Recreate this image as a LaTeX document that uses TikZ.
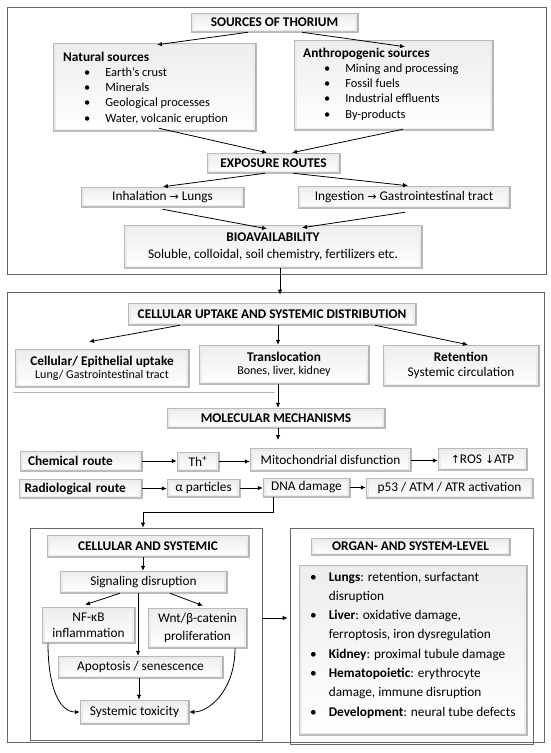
\documentclass[tikz,border=0pt]{standalone}
\usepackage{fontspec}
\setmainfont{Carlito}
\newfontfamily\arrowfont{DejaVu Sans}
\usetikzlibrary{arrows.meta}

\newcommand{\mainsize}{\fontsize{13.3}{15}\selectfont}
\newcommand{\subsize}{\fontsize{12}{14}\selectfont}
\newcommand{\thto}{{\arrowfont\fontsize{11}{12}\selectfont →}}
\newcommand{\thup}{{\arrowfont\fontsize{11}{12}\selectfont ↑}}
\newcommand{\thdown}{{\arrowfont\fontsize{11}{12}\selectfont ↓}}

\tikzset{
  bevel/.style={draw=gray!55, line width=0.5pt, fill=gray!16, inner sep=2pt,
    path picture={
      \fill[top color=gray!14, bottom color=white]
        ([shift={(3pt,3pt)}]path picture bounding box.south west) rectangle
        ([shift={(-3pt,-3pt)}]path picture bounding box.north east);
      \draw[gray!60, line width=2pt]
        (path picture bounding box.north east) -- (path picture bounding box.south east);
      \draw[gray!50, line width=1.2pt]
        (path picture bounding box.south east) -- (path picture bounding box.south west);
    }},
  frame/.style={draw=black!60, line width=0.7pt},
  arr/.style={-{Latex[length=5pt,width=4.5pt]}, line width=0.8pt},
  list/.style={inner sep=0pt, anchor=base west}
}

\begin{document}
\begin{tikzpicture}[x=1pt,y=-1pt,font=\mainsize]
\useasboundingbox (0,0) rectangle (550,753);

% frames
\node[frame, minimum width=539pt, minimum height=267pt] (fa) at (276.5,140.5) {};
\node[frame, minimum width=537pt, minimum height=450pt] (fb) at (275.5,517) {};
\node[frame, minimum width=232pt, minimum height=212pt] (fc) at (146,634) {};
\node[frame, minimum width=243pt, minimum height=216pt] (fd) at (411.5,636) {};

% sources and exposure
\node[bevel, minimum width=167pt, minimum height=19pt, font=\mainsize\bfseries] (src) at (274.5,22.5) {SOURCES OF THORIUM};
\node[bevel, minimum width=203pt, minimum height=88pt] (nat) at (154.5,87) {};
\node[list, font=\fontsize{12.4}{15.3}\selectfont] (natlist) at (63,61) {\begin{tabular}[t]{@{\hspace{21pt}}c@{\hspace{15pt}}l@{}}
\multicolumn{2}{@{}l@{}}{\mainsize\textbf{Natural sources}}\\
\textbullet & Earth’s crust\\
\textbullet & Minerals\\
\textbullet & Geological processes\\
\textbullet & Water, volcanic eruption
\end{tabular}};
\node[bevel, minimum width=199pt, minimum height=90pt] (ant) at (393.5,85) {};
\node[list, font=\fontsize{12.4}{15.3}\selectfont] (antlist) at (303,57) {\begin{tabular}[t]{@{\hspace{21pt}}c@{\hspace{15pt}}l@{}}
\multicolumn{2}{@{}l@{}}{\mainsize\textbf{Anthropogenic sources}}\\
\textbullet & Mining and processing\\
\textbullet & Fossil fuels\\
\textbullet & Industrial effluents\\
\textbullet & By-products
\end{tabular}};
\node[bevel, minimum width=133pt, minimum height=20pt, font=\mainsize\bfseries] (exp) at (273.5,163) {EXPOSURE ROUTES};
\node[bevel, minimum width=163pt, minimum height=20pt] (inh) at (162.5,197) {Inhalation \thto{} Lungs};
\node[bevel, minimum width=212pt, minimum height=22pt] (ing) at (404,197) {Ingestion \thto{} Gastrointestinal tract};
\node[bevel, minimum width=298pt, minimum height=43pt, align=center, font=\fontsize{13.3}{17}\selectfont] (bio) at (273,246.5) {\textbf{BIOAVAILABILITY}\\Soluble, colloidal, soil chemistry, fertilizers etc.};

\draw[arr] ([xshift=-26.5pt]src.south) -- ([xshift=2.5pt,yshift=-2pt]nat.north);
\draw[arr] ([xshift=27.5pt]src.south) -- ([xshift=11.5pt,yshift=-7pt]ant.north);
\draw[arr] ([xshift=4.5pt,yshift=3pt]nat.south) -- ([xshift=-6.5pt]exp.north);
\draw[arr] ([xshift=9.5pt,yshift=1pt]ant.south) -- ([xshift=18.5pt]exp.north);
\draw[arr] ([xshift=-8.5pt]exp.south) -- ([xshift=0.5pt]inh.north);
\draw[arr] ([xshift=19.5pt]exp.south) -- ([xshift=4pt]ing.north);
\draw[arr] ([yshift=-2pt]inh.south) -- ([xshift=-6pt,yshift=-4pt]bio.north);
\draw[arr] ([xshift=1pt,yshift=-4pt]ing.south) -- ([xshift=29pt,yshift=-3pt]bio.north);
\draw[arr] ([xshift=7pt]bio.south) -- ([xshift=7pt,yshift=-3pt]bio.south |- fb.north);

% uptake and distribution
\node[bevel, minimum width=288pt, minimum height=22pt, font=\mainsize\bfseries] (cusd) at (272,314) {CELLULAR UPTAKE AND SYSTEMIC DISTRIBUTION};
\node[bevel, minimum width=174pt, minimum height=38pt, align=center] (cel) at (102,368) {\textbf{Cellular/ Epithelial uptake}\\[-2pt]{\subsize Lung/ Gastrointestinal tract}};
\node[bevel, minimum width=170pt, minimum height=39pt, align=center] (trans) at (284,364.5) {\textbf{Translocation}\\[-2pt]{\subsize Bones, liver, kidney}};
\node[bevel, minimum width=156pt, minimum height=41pt, align=center] (ret) at (461,365.5) {\textbf{Retention}\\Systemic circulation};
\draw[gray!60, line width=0.6pt] (13,392) -- (275,392);

\draw[arr] ([xshift=-92pt]cusd.south) -- ([xshift=-13pt,yshift=7pt]cel.north);
\draw[arr] ([xshift=6pt]cusd.south) -- ([xshift=6pt]cusd.south |- trans.north);
\draw[arr] ([xshift=103pt]cusd.south) -- ([xshift=7pt]ret.north);

% molecular mechanisms
\node[bevel, minimum width=218pt, minimum height=20pt, font=\mainsize\bfseries] (mol) at (276,418) {MOLECULAR MECHANISMS};
\draw[arr] ([xshift=-6pt]trans.south) -- ([xshift=-6pt]trans.south |- mol.north);
\coordinate (molend) at (278,440);
\draw[arr] ([xshift=2pt]mol.south) -- (molend);

\node[bevel, minimum width=122pt, minimum height=20pt, text width=106pt, inner xsep=8pt, align=left, font=\mainsize\bfseries] (chem) at (81,461) {Chemical route};
\node[bevel, minimum width=42pt, minimum height=19pt] (th) at (198,461.5) {Th\textsuperscript{+}};
\node[bevel, minimum width=161pt, minimum height=23pt] (mito) at (330.5,459.5) {Mitochondrial disfunction};
\node[bevel, minimum width=89pt, minimum height=22pt] (ros) at (482.5,459) {\thup ROS \thdown ATP};
\node[bevel, minimum width=123pt, minimum height=19pt, text width=112pt, inner xsep=5.5pt, align=left, font=\mainsize\bfseries] (rad) at (80.5,488.5) {Radiological route};
\node[bevel, minimum width=73pt, minimum height=18pt] (alpha) at (203.5,488) {α particles};
\node[bevel, minimum width=87pt, minimum height=19pt] (dna) at (306.5,487.5) {DNA damage};
\node[bevel, minimum width=167pt, minimum height=20pt] (p53) at (449.5,488) {p53 / ATM / ATR activation};

\draw[arr] (chem.east) -- (chem.east -| th.west);
\draw[arr] (th.east) -- (th.east -| mito.west);
\draw[arr] ([yshift=-1pt]mito.east) -- ([yshift=-1pt]mito.east -| ros.west);
\draw[arr] (rad.east) -- (rad.east -| alpha.west);
\draw[arr] (alpha.east) -- (alpha.east -| dna.west);
\draw[arr] (dna.east) -- (dna.east -| p53.west);
\draw[arr] ([xshift=-33.5pt]dna.south) -- ++(0,15) -| ([xshift=-3pt]fc.north);

% cellular and systemic
\node[bevel, minimum width=202pt, minimum height=22pt, font=\mainsize\bfseries] (cas) at (148,546) {CELLULAR AND SYSTEMIC};
\node[bevel, minimum width=167pt, minimum height=22pt] (sig) at (143.5,582) {Signaling disruption};
\node[bevel, minimum width=93pt, minimum height=36pt, align=center, font=\fontsize{13.3}{16}\selectfont] (nfkb) at (88.5,625) {NF-κB\\inflammation};
\node[bevel, minimum width=99pt, minimum height=40pt, align=center, font=\fontsize{13.3}{18}\selectfont] (wnt) at (197.5,628) {Wnt/β-catenin\\proliferation};
\node[bevel, minimum width=165pt, minimum height=22pt] (apo) at (140.5,667) {Apoptosis / senescence};
\node[bevel, minimum width=109pt, minimum height=24pt] (tox) at (134.5,712) {Systemic toxicity};

\draw[arr] ([xshift=-5pt]cas.south) -- ([xshift=-5pt]cas.south |- sig.north);
\draw[arr] ([xshift=-23.5pt]sig.south) -- ([xshift=-3.5pt,yshift=2pt]nfkb.north);
\draw[arr] ([xshift=26.5pt]sig.south) -- ([xshift=5.5pt,yshift=2pt]wnt.north);
\draw[arr] ([xshift=-5.5pt]sig.south) -- ([xshift=-5.5pt]sig.south |- apo.north);
\draw[arr] ([xshift=-1.5pt]apo.south) -- ([xshift=-1.5pt]apo.south |- tox.north);
\draw[arr] ([xshift=-40.5pt]nfkb.south) .. controls +(0,45) and +(-20,0) .. (tox.west);
\draw[arr] ([xshift=37.5pt]wnt.south) .. controls +(0,42) and +(20,0) .. (tox.east);
\draw[arr] ([yshift=16pt]fc.east) -- ([yshift=16pt,xshift=-2pt]fc.east -| fd.west);

% organ and system level
\node[bevel, minimum width=199pt, minimum height=17pt, font=\mainsize\bfseries] (orgt) at (410.5,546.5) {ORGAN- AND SYSTEM-LEVEL};
\node[bevel, minimum width=228pt, minimum height=170pt] (orgl) at (413,650) {};
\node[list, font=\fontsize{13.3}{19.3}\selectfont] (orglist) at (310,581) {\begin{tabular}[t]{@{}c@{\hspace{12pt}}l@{}}
\textbullet & \textbf{Lungs}: retention, surfactant\\
 & disruption\\
\textbullet & \textbf{Liver}: oxidative damage,\\
 & ferroptosis, iron dysregulation\\
\textbullet & \textbf{Kidney}: proximal tubule damage\\
\textbullet & \textbf{Hematopoietic}: erythrocyte\\
 & damage, immune disruption\\
\textbullet & \textbf{Development}: neural tube defects
\end{tabular}};
\end{tikzpicture}
\end{document}
